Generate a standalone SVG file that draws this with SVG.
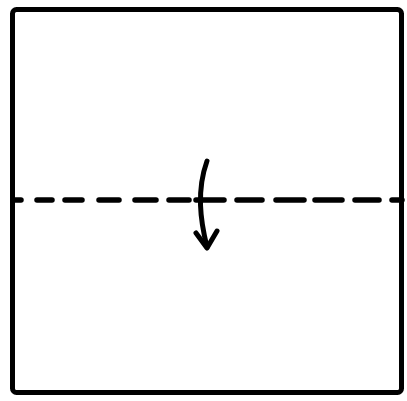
<svg xmlns="http://www.w3.org/2000/svg" width="407" height="401" viewBox="0 0 407 401">
<style>
.edge{fill:none;stroke:#000;stroke-width:5;stroke-linejoin:round}
.fold{fill:none;stroke:#000;stroke-width:5.5;stroke-linecap:round}
.arrow{fill:none;stroke:#000;stroke-width:5;stroke-linecap:round;stroke-linejoin:round}
</style>
<rect width="407" height="401" fill="#fff"/>
<g id="paper">
<rect class="edge" x="12.5" y="9.5" width="389" height="383" rx="4"/>
</g>
<g id="valley-fold">
<line class="fold" x1="14" y1="200" x2="21" y2="200"/>
<line class="fold" x1="37" y1="200" x2="52" y2="200"/>
<line class="fold" x1="65" y1="200" x2="82" y2="200"/>
<line class="fold" x1="99" y1="200" x2="119" y2="200"/>
<line class="fold" x1="135" y1="200" x2="156" y2="200"/>
<line class="fold" x1="169" y1="200" x2="189" y2="200"/>
<line class="fold" x1="196" y1="200" x2="224" y2="200"/>
<line class="fold" x1="237" y1="200" x2="262" y2="200"/>
<line class="fold" x1="276" y1="200" x2="304" y2="200"/>
<line class="fold" x1="315" y1="200" x2="342" y2="200"/>
<line class="fold" x1="355" y1="200" x2="379" y2="200"/>
<line class="fold" x1="392" y1="200" x2="402" y2="200"/>
</g>
<g id="connectors">
<path class="arrow" d="M207,161 C202,175 200,190 200.5,205 C201,220 204,235 207,247"/>
<path class="arrow" d="M196,233 L207,248 L217,231"/>
</g>
</svg>
